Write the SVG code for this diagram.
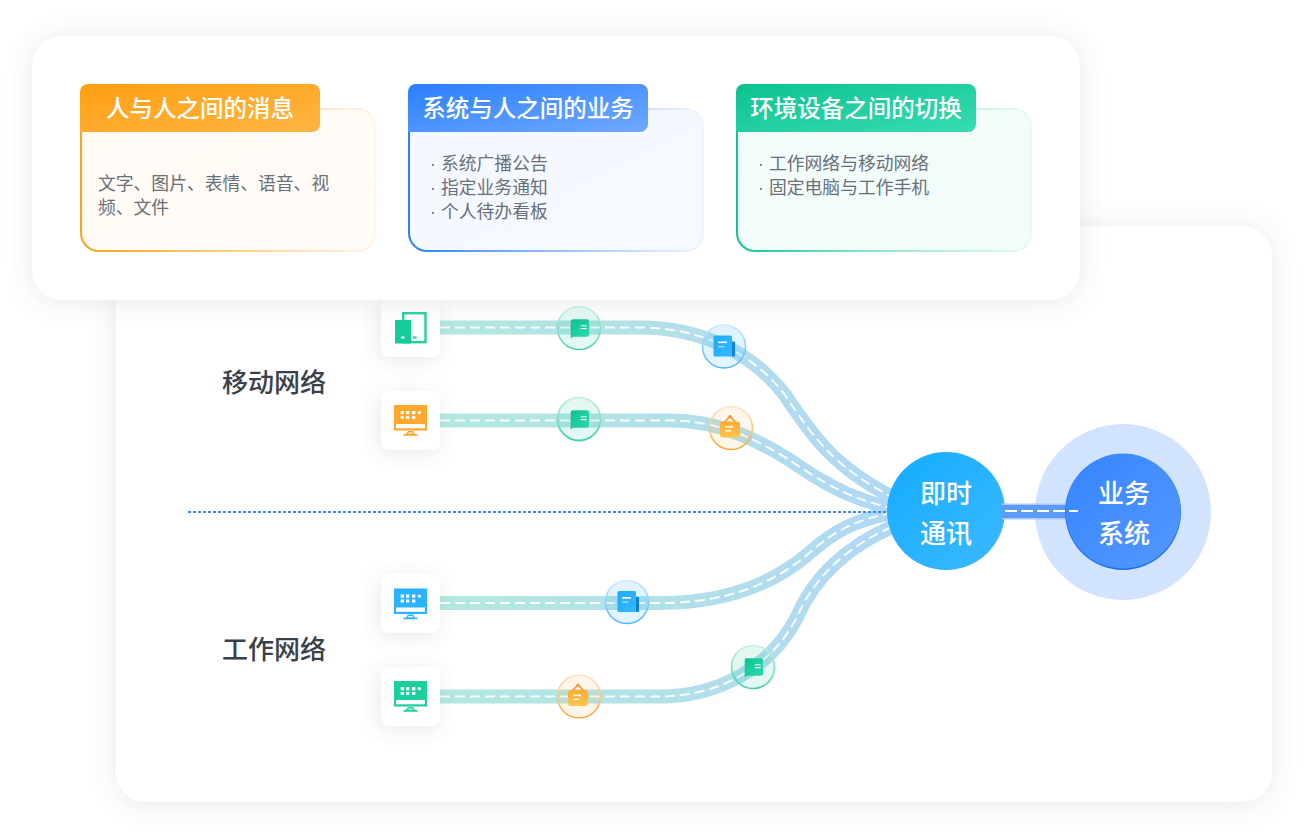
<svg xmlns="http://www.w3.org/2000/svg" width="1306" height="836" viewBox="0 0 1306 836">
<style>
text{font-family:"Noto Sans CJK SC","Noto Sans",sans-serif}
.head{font-size:23.500px;font-weight:500;fill:#fff;text-anchor:middle}
.body{font-size:17.800px;fill:#6a7079}
.dot{font-family:"Liberation Sans",sans-serif}
.side{font-size:26px;font-weight:500;fill:#3a4049;text-anchor:middle}
.hub{font-size:26px;font-weight:500;fill:#fff;text-anchor:middle}
.road{fill:none;stroke:url(#roadG);stroke-width:14}
.dash{fill:none;stroke:#fff;stroke-width:2;stroke-dasharray:10 5;opacity:.9}
.tile{fill:#fff;filter:url(#tileS)}
.w{fill:#fff}
</style>
<defs>
<filter id="panelS" x="-10%" y="-15%" width="120%" height="130%"><feDropShadow dx="0" dy="2" stdDeviation="13" flood-color="#5a6478" flood-opacity=".14"/></filter>
<filter id="tileS" x="-40%" y="-40%" width="180%" height="180%"><feDropShadow dx="-2" dy="3" stdDeviation="9" flood-color="#5a6478" flood-opacity=".15"/></filter>
<linearGradient id="roadG" gradientUnits="userSpaceOnUse" x1="440" y1="0" x2="890" y2="0"><stop offset="0" stop-color="#b3e9e0"/><stop offset=".55" stop-color="#b2dfe9"/><stop offset="1" stop-color="#b0d8f5"/></linearGradient>
<linearGradient id="oH" x1="0" y1="0" x2="1" y2="1"><stop offset="0" stop-color="#ff9f12"/><stop offset="1" stop-color="#ffb544"/></linearGradient>
<linearGradient id="bH" x1="0" y1="0" x2="1" y2="1"><stop offset="0" stop-color="#2a7fff"/><stop offset="1" stop-color="#70a9ff"/></linearGradient>
<linearGradient id="gH" x1="0" y1="0" x2="1" y2="1"><stop offset="0" stop-color="#0cc291"/><stop offset="1" stop-color="#38dcb2"/></linearGradient>
<linearGradient id="oS" x1="0" y1="0" x2="1" y2="0"><stop offset="0" stop-color="#ffa31a"/><stop offset=".4" stop-color="#ffc46e"/><stop offset="1" stop-color="#fff6ec"/></linearGradient>
<linearGradient id="bS" x1="0" y1="0" x2="1" y2="0"><stop offset="0" stop-color="#2a7fff"/><stop offset=".4" stop-color="#84b4fb"/><stop offset="1" stop-color="#f0f6ff"/></linearGradient>
<linearGradient id="gS" x1="0" y1="0" x2="1" y2="0"><stop offset="0" stop-color="#10c494"/><stop offset=".4" stop-color="#7fe3c8"/><stop offset="1" stop-color="#eafbf6"/></linearGradient>
<linearGradient id="oF" x1="0" y1="0" x2="1" y2="1"><stop offset="0" stop-color="#fffaf4"/><stop offset="1" stop-color="#fffbf6"/></linearGradient>
<linearGradient id="bF" x1="0" y1="0" x2="1" y2="1"><stop offset="0" stop-color="#f4f8ff"/><stop offset="1" stop-color="#f6f9ff"/></linearGradient>
<linearGradient id="gF" x1="0" y1="0" x2="1" y2="1"><stop offset="0" stop-color="#f3fcfa"/><stop offset="1" stop-color="#f2fcf9"/></linearGradient>
<linearGradient id="hubG" x1="0" y1="0" x2="1" y2="1"><stop offset="0" stop-color="#14acff"/><stop offset="1" stop-color="#3cb9ff"/></linearGradient>
<linearGradient id="bizG" x1="0" y1="0" x2="1" y2="1"><stop offset="0" stop-color="#3585ff"/><stop offset="1" stop-color="#5598ff"/></linearGradient>
<linearGradient id="tRing" x1="0" y1="0" x2="0" y2="1"><stop offset="0" stop-color="#c9f1e4"/><stop offset="1" stop-color="#3fd0a8"/></linearGradient>
<linearGradient id="bRing" x1="0" y1="0" x2="0" y2="1"><stop offset="0" stop-color="#c9e9ff"/><stop offset="1" stop-color="#4cb6ff"/></linearGradient>
<linearGradient id="aRing" x1="0" y1="0" x2="0" y2="1"><stop offset="0" stop-color="#ffe6c8"/><stop offset="1" stop-color="#ffa638"/></linearGradient>
<linearGradient id="chatG" x1="0" y1="0" x2="1" y2="1"><stop offset="0" stop-color="#0fc292"/><stop offset="1" stop-color="#2cdaac"/></linearGradient>
<linearGradient id="bookG" x1="0" y1="0" x2="1" y2="1"><stop offset="0" stop-color="#1aabff"/><stop offset="1" stop-color="#38b8ff"/></linearGradient>
<linearGradient id="bagG" x1="0" y1="0" x2="0" y2="1"><stop offset="0" stop-color="#ffaa2c"/><stop offset="1" stop-color="#ffc650"/></linearGradient>
<symbol id="chat" viewBox="0 0 44 44" width="44" height="44" overflow="visible">
<path d="M13.700 14.300a2 2 0 0 1 2-2H30a2 2 0 0 1 2 2V27.700a2 2 0 0 1-2 2H16l-2.300 2z" fill="url(#chatG)"/>
<rect x="23.700" y="18.200" width="6" height="1.200" class="w" opacity=".85"/><rect x="23.700" y="21" width="6" height="1.200" class="w"/>
</symbol>
<symbol id="book" viewBox="0 0 44 44" width="44" height="44" overflow="visible">
<rect x="30" y="16" width="3" height="15" fill="#0d84d6"/>
<rect x="11.500" y="10" width="18.500" height="21" rx="1.500" fill="url(#bookG)"/>
<rect x="16" y="16" width="9" height="1.600" class="w"/><rect x="16" y="20.400" width="6.500" height="1.600" class="w" opacity=".5"/>
</symbol>
<symbol id="bag" viewBox="0 0 44 44" width="44" height="44" overflow="visible">
<path d="M16.500 16 L22 10.500 L27.500 16" fill="none" stroke="#ff8f40" stroke-width="1.600"/><circle cx="22" cy="10.500" r="1.600" fill="#ff8f40"/>
<rect x="12" y="15.500" width="20" height="16" rx="3" fill="url(#bagG)"/>
<rect x="17" y="20" width="8" height="1.600" class="w" opacity=".9"/><rect x="17" y="24" width="6" height="1.600" class="w" opacity=".9"/>
</symbol>
<symbol id="monitor" viewBox="0 0 60 60" width="60" height="60" overflow="visible">
<rect x="13" y="15" width="33" height="25.500" fill="currentColor"/>
<path d="M27 40.500H32L34 43.500H25z M27.600 42H31.400L32 43H27z" fill="currentColor" fill-rule="evenodd" transform="translate(0 .5)"/>
<rect x="22.500" y="44" width="14" height="1.800" rx=".9" fill="currentColor"/>
<g class="w"><rect x="19.700" y="21" width="3.300" height="3.300"/><rect x="25" y="21" width="3.300" height="3.300"/><rect x="31" y="21" width="3.300" height="3.300"/><rect x="36.700" y="21" width="3.300" height="3.300" rx="1.600"/><rect x="19.700" y="26" width="3.300" height="3"/><rect x="25" y="26" width="3.300" height="3"/><rect x="31" y="26" width="3.300" height="3"/><rect x="15" y="34" width="29" height="4.300"/></g>
</symbol>
</defs>

<g id="back-panel"><rect x="116" y="226" width="1156" height="576" rx="30" fill="#fff" filter="url(#panelS)"/></g>

<g id="connectors">
<path class="road" id="road1" d="M440 327.500H640C700 327.500 752 352 785 395C815 440 835 467 892 497"/>
<path class="road" id="road2" d="M440 420.500H670C720 420.500 760 440 800 467C830 487 855 500 892 508"/>
<path class="road" id="road3" d="M440 603H660C715 603 765 590 807 555C835 530 855 520 892 513"/>
<path class="road" id="road4" d="M440 696.500H660C715 696.500 770 670 797 617C815 575 850 545 892 527"/>
<path class="dash" d="M440 327.500H640C700 327.500 752 352 785 395C815 440 835 467 892 497"/>
<path class="dash" d="M440 420.500H670C720 420.500 760 440 800 467C830 487 855 500 892 508"/>
<path class="dash" d="M440 603H660C715 603 765 590 807 555C835 530 855 520 892 513"/>
<path class="dash" d="M440 696.500H660C715 696.500 770 670 797 617C815 575 850 545 892 527"/>
<line id="divider" x1="188" y1="512" x2="890" y2="512" stroke="#3b86f2" stroke-width="2" stroke-dasharray="3 2"/>
</g>

<g id="tile-tablet"><rect class="tile" x="381" y="298" width="59" height="59" rx="8"/>
<rect x="403.200" y="313.200" width="22.300" height="29" fill="none" stroke="#25d0a5" stroke-width="2.400"/>
<rect x="395" y="320" width="16" height="23.500" fill="#14cc9c"/><rect x="401" y="336.500" width="3.500" height="2" class="w"/><rect x="413" y="336.500" width="3.500" height="2" fill="#14cc9c"/></g>
<g id="tile-orange" color="#ffa72b"><rect class="tile" x="381" y="391" width="59" height="59" rx="8"/><use href="#monitor" x="381" y="390"/></g>
<g id="tile-blue" color="#28b2ff"><rect class="tile" x="381" y="574" width="59" height="59" rx="8"/><use href="#monitor" x="381" y="573.500"/></g>
<g id="tile-green" color="#1ccf9f"><rect class="tile" x="381" y="667" width="59" height="59" rx="8"/><use href="#monitor" x="381" y="666"/></g>

<g id="label-mobile"><text class="side" x="274" y="391.500">移动网络</text></g>
<g id="label-work"><text class="side" x="274" y="658.500">工作网络</text></g>

<g id="badge-1"><circle cx="579" cy="328" r="21.500" fill="#1ec8a0" fill-opacity=".12" stroke="url(#tRing)" stroke-width="1.400"/><use href="#chat" x="557" y="307"/></g>
<g id="badge-2"><circle cx="724" cy="346.500" r="21.500" fill="#4ab8ff" fill-opacity=".16" stroke="url(#bRing)" stroke-width="1.600"/><use href="#book" x="702" y="325.500"/></g>
<g id="badge-3"><circle cx="579" cy="419" r="21.500" fill="#1ec8a0" fill-opacity=".12" stroke="url(#tRing)" stroke-width="1.800"/><use href="#chat" x="557" y="398"/></g>
<g id="badge-4"><circle cx="731" cy="428" r="21.500" fill="#ffaa40" fill-opacity=".12" stroke="url(#aRing)" stroke-width="1.600"/><use href="#bag" x="708" y="406"/></g>
<g id="badge-5"><circle cx="627" cy="602" r="21.500" fill="#4ab8ff" fill-opacity=".16" stroke="url(#bRing)" stroke-width="1.600"/><use href="#book" x="606" y="581"/></g>
<g id="badge-6"><circle cx="579" cy="696.500" r="21.500" fill="#ffaa40" fill-opacity=".12" stroke="url(#aRing)" stroke-width="1.600"/><use href="#bag" x="556" y="674.500"/></g>
<g id="badge-7"><circle cx="753" cy="667" r="21.500" fill="#1ec8a0" fill-opacity=".12" stroke="url(#tRing)" stroke-width="1.600"/><use href="#chat" x="731" y="646"/></g>

<g id="hub"><circle cx="946" cy="511" r="59" fill="url(#hubG)"/><text class="hub" x="946" y="503">即时</text><text class="hub" x="946" y="543">通讯</text></g>
<circle cx="1123" cy="512" r="88" fill="#d2e3fd" id="halo"/>
<g id="link"><path d="M1002 511.500H1070" stroke="#a9c9f7" stroke-width="16" fill="none"/><path d="M1002 511.500H1070" stroke="#5c9bf6" stroke-width="13" fill="none"/></g>
<g id="biz"><circle cx="1123" cy="512" r="58" fill="#1a6ef5"/><circle cx="1123" cy="511" r="57.500" fill="url(#bizG)"/><text class="hub" x="1124" y="503">业务</text><text class="hub" x="1124" y="543">系统</text></g>
<path class="dash" d="M1005 511H1078" style="stroke-dasharray:12 4;opacity:1"/>

<g id="top-panel"><rect x="32" y="36" width="1048" height="264" rx="30" fill="#fff" filter="url(#panelS)"/></g>

<g id="card-1"><rect x="81" y="109" width="294" height="142" rx="18" fill="url(#oF)" stroke="url(#oS)" stroke-width="2"/>
<path d="M88 84H312a8 8 0 0 1 8 8V124a8 8 0 0 1-8 8H80V92a8 8 0 0 1 8-8z" fill="url(#oH)"/>
<text class="head" x="200" y="116.500">人与人之间的消息</text>
<text class="body" x="98" y="190">文字、图片、表情、语音、视</text><text class="body" x="98" y="214">频、文件</text></g>

<g id="card-2"><rect x="409" y="109" width="294" height="142" rx="18" fill="url(#bF)" stroke="url(#bS)" stroke-width="2"/>
<path d="M416 84H640a8 8 0 0 1 8 8V124a8 8 0 0 1-8 8H408V92a8 8 0 0 1 8-8z" fill="url(#bH)"/>
<text class="head" x="528" y="116.500">系统与人之间的业务</text>
<text class="body" y="170"><tspan class="dot" x="430">·</tspan><tspan x="441">系统广播公告</tspan></text>
<text class="body" y="194"><tspan class="dot" x="430">·</tspan><tspan x="441">指定业务通知</tspan></text>
<text class="body" y="218"><tspan class="dot" x="430">·</tspan><tspan x="441">个人待办看板</tspan></text></g>

<g id="card-3"><rect x="737" y="109" width="294" height="142" rx="18" fill="url(#gF)" stroke="url(#gS)" stroke-width="2"/>
<path d="M744 84H968a8 8 0 0 1 8 8V124a8 8 0 0 1-8 8H736V92a8 8 0 0 1 8-8z" fill="url(#gH)"/>
<text class="head" x="856" y="116.500">环境设备之间的切换</text>
<text class="body" y="170"><tspan class="dot" x="758">·</tspan><tspan x="769">工作网络与移动网络</tspan></text>
<text class="body" y="194"><tspan class="dot" x="758">·</tspan><tspan x="769">固定电脑与工作手机</tspan></text></g>
</svg>
